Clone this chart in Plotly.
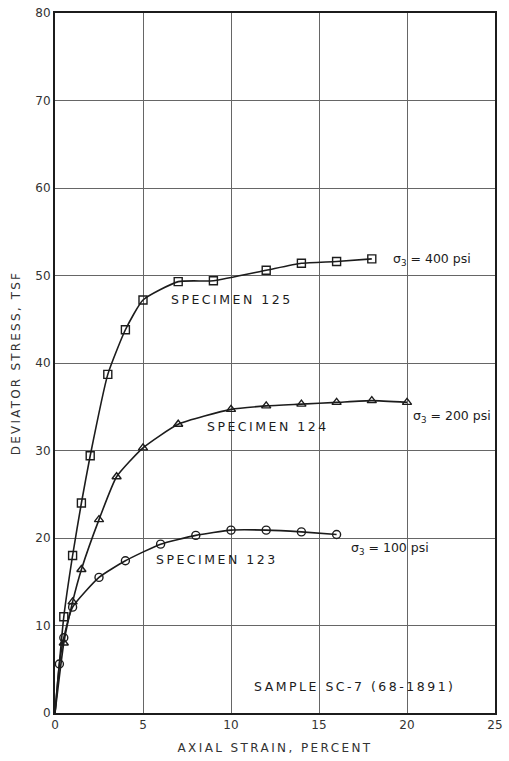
import plotly.graph_objects as go

# Specimen 125 (sigma3 = 400 psi), squares
x125 = [0.5, 1, 1.5, 2, 3, 4, 5, 7, 9, 12, 14, 16, 18]
y125 = [11, 18, 24, 29.4, 38.7, 43.8, 47.2, 49.3, 49.4, 50.6, 51.4, 51.6, 51.9]
# Specimen 124 (sigma3 = 200 psi), triangles
x124 = [0.5, 1, 1.5, 2.5, 3.5, 5, 7, 10, 12, 14, 16, 18, 20]
y124 = [8, 12.7, 16.4, 22.1, 27, 30.3, 33, 34.7, 35.1, 35.3, 35.5, 35.7, 35.5]
# Specimen 123 (sigma3 = 100 psi), circles
x123 = [0.25, 0.5, 1, 2.5, 4, 6, 8, 10, 12, 14, 16]
y123 = [5.6, 8.6, 12.1, 15.5, 17.4, 19.3, 20.3, 20.9, 20.9, 20.7, 20.4]

origin = [0]
xticks = [0, 5, 10, 15, 20, 25]
yticks = [0, 10, 20, 30, 40, 50, 60, 70, 80]

FONT = "DejaVu Sans"
INK = "#1c1c1c"


def spaced(t, px=2.5):
    return f'<span style="letter-spacing:{px}px">{t}</span>'


series = [
    (x125, y125, "square-open"),
    (x124, y124, "triangle-up-open"),
    (x123, y123, "circle-open"),
]

fig = go.Figure()
for xs, ys, sym in series:
    fig.add_trace(go.Scatter(
        x=origin + xs, y=origin + ys, mode="lines",
        line=dict(color=INK, width=1.6, shape="spline", smoothing=0.5),
        hoverinfo="skip", showlegend=False))
    fig.add_trace(go.Scatter(
        x=xs, y=ys, mode="markers",
        marker=dict(symbol=sym, size=8, color=INK, line=dict(width=1.4, color=INK)),
        showlegend=False))

labels = [
    (6.45, 47.3, spaced("SPECIMEN 125")),
    (8.55, 32.75, spaced("SPECIMEN 124")),
    (5.6, 17.6, spaced("SPECIMEN 123")),
    (19.1, 51.8, "σ<sub>3</sub> = 400 psi"),
    (20.25, 33.9, "σ<sub>3</sub> = 200 psi"),
    (16.7, 18.8, "σ<sub>3</sub> = 100 psi"),
    (11.2, 3.0, spaced("SAMPLE SC-7 (68-1891)")),
]
for x, y, t in labels:
    fig.add_annotation(x=x, y=y, text=t, showarrow=False, xanchor="left", yanchor="middle",
                       font=dict(family=FONT, size=12.5, color=INK))

tickfont = dict(family=FONT, size=12, color="#333")
fig.update_xaxes(range=[0, 25], tickvals=xticks, ticktext=[str(v) for v in xticks],
                 showgrid=True, gridcolor="#666", gridwidth=1.3,
                 showline=True, linecolor=INK, linewidth=2, mirror=True,
                 zeroline=False, ticks="", tickfont=tickfont,
                 title=dict(text=spaced("AXIAL STRAIN, PERCENT", 2.4),
                            font=dict(family=FONT, size=12, color="#333"), standoff=12))
fig.update_yaxes(range=[0, 80], tickvals=yticks, ticktext=[str(v) for v in yticks],
                 showgrid=True, gridcolor="#666", gridwidth=1.3,
                 showline=True, linecolor=INK, linewidth=2, mirror=True,
                 zeroline=False, ticks="", tickfont=tickfont,
                 title=dict(text=spaced("DEVIATOR STRESS, TSF", 2.2),
                            font=dict(family=FONT, size=12, color="#333"), standoff=12))

fig.update_layout(width=509, height=761, margin=dict(l=55, r=6, t=9, b=48),
                  paper_bgcolor="white", plot_bgcolor="white")

fig.write_html("out.html")
